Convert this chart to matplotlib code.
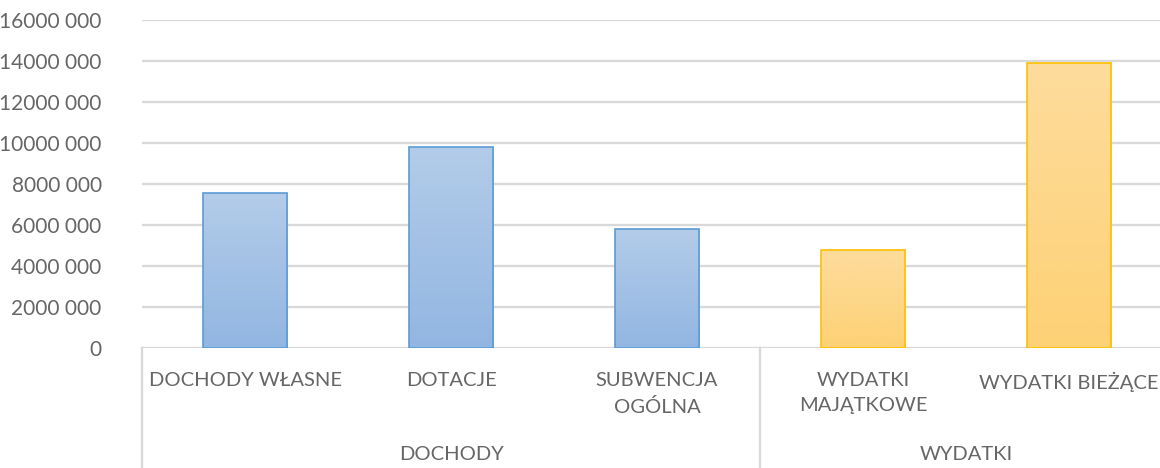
import numpy as np
import matplotlib
matplotlib.use("Agg")
import matplotlib.pyplot as plt
from matplotlib.ticker import FuncFormatter, MultipleLocator

plt.rcParams["font.family"] = ["Lato", "DejaVu Sans"]

# budget data (PLN)
categories = ["DOCHODY WŁASNE", "DOTACJE", "SUBWENCJA\nOGÓLNA",
              "WYDATKI\nMAJĄTKOWE", "WYDATKI BIEŻĄCE"]
groups = ["DOCHODY", "WYDATKI"]
group_sizes = [3, 2]
values = [7560000, 9820000, 5790000, 4780000, 13890000]

text_color = "#666666"
grid_color = "#D9D9D9"
# (top colour, bottom colour, edge colour) for each group
group_styles = [("#B3CCE9", "#92B6E2", "#5B9BD5"),
                ("#FDDC9C", "#FDD175", "#FFC000")]

fig = plt.figure(figsize=(11.6, 4.68), dpi=100)
ax = fig.add_axes([142 / 1160, 1 - 348 / 468, 1030 / 1160, 328 / 468])

x = np.arange(len(categories))
bars = ax.bar(x, values, width=0.41, zorder=3, linewidth=1.2)

# gradient fill for each bar, clipped to the bar rectangle
start = 0
for (top, bottom, edge), size in zip(group_styles, group_sizes):
    c_top = np.array(matplotlib.colors.to_rgb(top))
    c_bot = np.array(matplotlib.colors.to_rgb(bottom))
    t = np.linspace(0, 1, 256)[:, None]
    grad = (c_top * (1 - t) + c_bot * t)[:, None, :]
    for b in bars[start:start + size]:
        b.set_facecolor("none")
        b.set_edgecolor(edge)
        x0, w, h = b.get_x(), b.get_width(), b.get_height()
        im = ax.imshow(grad, extent=[x0, x0 + w, 0, h], origin="upper",
                       aspect="auto", zorder=2.5)
        im.set_clip_path(b)
    start += size
ax.set_xlim(-0.5, len(categories) - 0.5)
ax.set_ylim(0, 16000000)

# axis styling
for s in ax.spines.values():
    s.set_visible(False)
ax.yaxis.set_major_locator(MultipleLocator(2000000))
ax.yaxis.set_major_formatter(FuncFormatter(
    lambda v, p: "0" if v == 0 else f"{int(v // 1000)} 000"))
ax.tick_params(axis="y", length=0, pad=29, labelsize=15, labelcolor=text_color)
ax.tick_params(axis="x", length=0, labelbottom=False)
ax.grid(axis="y", color=grid_color, linewidth=1.7, zorder=0)
ax.set_axisbelow(True)

# category labels and grouping lines below the axis
trans = ax.get_xaxis_transform()
px = 1 / 328
for xi, label in zip(x, categories):
    ax.text(xi, -24 * px, label, transform=trans, ha="center", va="top",
            fontsize=14.5, color=text_color, linespacing=1.6)

edges = np.cumsum([0] + group_sizes) - 0.5
for xe in edges[:-1]:
    ax.plot([xe, xe], [0, -120 * px], transform=trans, color=grid_color,
            linewidth=1.7, clip_on=False)
for i, g in enumerate(groups):
    ax.text((edges[i] + edges[i + 1]) / 2, -107 * px, g, transform=trans,
            ha="center", va="center", fontsize=14.5, color=text_color)

fig.savefig("out.png", dpi=100)
